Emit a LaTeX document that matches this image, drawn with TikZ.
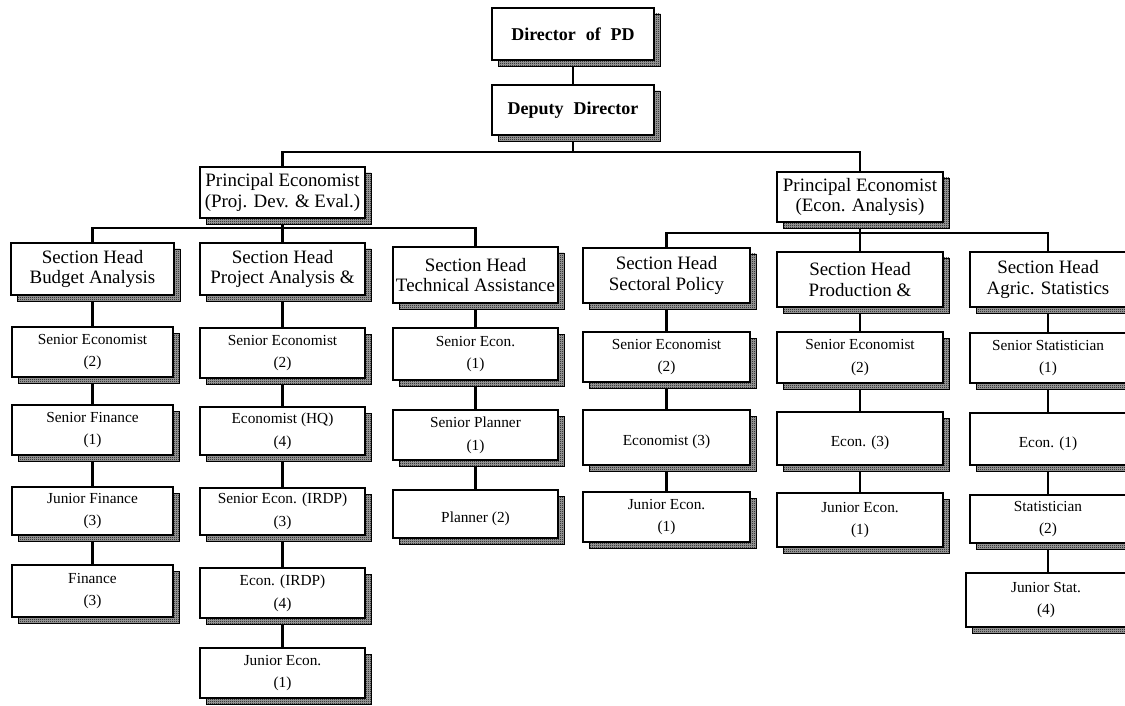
\documentclass[tikz,border=0pt]{standalone}
\usepackage{fontspec}
\setmainfont{Liberation Serif}
\newfontfamily\wideserif[WordSpace=2.2]{Liberation Serif}
\usetikzlibrary{shadows,patterns,backgrounds}
\pgfdeclarepatternformonly{finecheck}{\pgfqpoint{0pt}{0pt}}{\pgfqpoint{1.5pt}{1.5pt}}{\pgfqpoint{1.5pt}{1.5pt}}{%
  \pgfpathrectangle{\pgfqpoint{0pt}{0pt}}{\pgfqpoint{0.75pt}{0.75pt}}%
  \pgfpathrectangle{\pgfqpoint{0.75pt}{0.75pt}}{\pgfqpoint{0.75pt}{0.75pt}}%
  \pgfusepath{fill}}
\tikzset{
  box/.style={draw, line width=1.6pt, fill=white, align=center, inner sep=1pt,
    general shadow={shadow xshift=4.5pt, shadow yshift=-4.5pt, fill=black!35,
      postaction={pattern=finecheck, pattern color=black},
      draw=black, line width=0.6pt}},
  sz/.style 2 args={minimum width=#1*0.75pt, minimum height=#2*0.75pt},
  topbox/.style={box, font=\fontsize{13.5}{15}\wideserif\bfseries},
  headbox/.style={box, font=\fontsize{14.2}{15.5}\selectfont,
    execute at begin node={\rule{0pt}{14pt}}},
  staffbox/.style={box, font=\fontsize{11.5}{17}\selectfont,
    execute at begin node={\rule{0pt}{15pt}}},
  conn/.style={draw, line width=1.6pt}
}
\begin{document}
\begin{tikzpicture}[x=0.75pt, y=-0.75pt]
\useasboundingbox (0,0) rectangle (1125,706);
% top
\node[topbox, sz={162}{52}] (dir) at (573,34) {Director of PD};
\node[topbox, sz={162}{50}] (dd) at (573,110) {Deputy Director};
\node[headbox, sz={165}{51}] (pe1) at (282.5,192.5) {Principal Economist\\(Proj. Dev. \& Eval.)};
\node[headbox, sz={166}{50}] (pe2) at (860,197) {Principal Economist\\(Econ. Analysis)};
% section heads
\node[headbox, sz={163}{52}] (s1) at (92.5,269) {Section Head\\Budget Analysis};
\node[headbox, sz={165}{52}] (s2) at (282.5,269) {Section Head\\Project Analysis \&};
\node[headbox, sz={165}{56}] (s3) at (475.5,275) {Section Head\\Technical Assistance};
\node[headbox, sz={167}{55}] (s4) at (666.5,275.5) {Section Head\\Sectoral Policy};
\node[headbox, sz={166}{55}] (s5) at (860,279.5) {Section Head\\Production \&};
\node[headbox, sz={156}{55}] (s6) at (1048,279.5) {Section Head\\Agric. Statistics};
% column 1
\node[staffbox, sz={161}{50}] (a1) at (92.5,352) {Senior Economist\\(2)};
\node[staffbox, sz={161}{50}] (a2) at (92.5,430) {Senior Finance\\(1)};
\node[staffbox, sz={161}{48}] (a3) at (92.5,511) {Junior Finance\\(3)};
\node[staffbox, sz={161}{52}] (a4) at (92.5,591) {Finance\\(3)};
% column 2
\node[staffbox, sz={165}{50}] (b1) at (282.5,353) {Senior Economist\\(2)};
\node[staffbox, sz={165}{48}] (b2) at (282.5,431) {Economist (HQ)\\(4)};
\node[staffbox, sz={165}{47}] (b3) at (282.5,511.5) {Senior Econ. (IRDP)\\(3)};
\node[staffbox, sz={165}{50}] (b4) at (282.5,593) {Econ. (IRDP)\\(4)};
\node[staffbox, sz={165}{50}] (b5) at (282.5,673) {Junior Econ.\\(1)};
% column 3
\node[staffbox, sz={165}{52}] (c1) at (475.5,354) {Senior Econ.\\(1)};
\node[staffbox, sz={165}{50}] (c2) at (475.5,435) {Senior Planner\\(1)};
\node[staffbox, sz={165}{48}] (c3) at (475.5,514) {Planner (2)};
% column 4
\node[staffbox, sz={167}{50}] (d1) at (666.5,357) {Senior Economist\\(2)};
\node[staffbox, sz={167}{55}] (d2) at (666.5,437.5) {Economist (3)};
\node[staffbox, sz={167}{50}] (d3) at (666.5,517) {Junior Econ.\\(1)};
% column 5
\node[staffbox, sz={166}{51}] (e1) at (860,357.5) {Senior Economist\\(2)};
\node[staffbox, sz={166}{53}] (e2) at (860,438.5) {Econ. (3)};
\node[staffbox, sz={166}{54}] (e3) at (860,520) {Junior Econ.\\(1)};
% column 6
\node[staffbox, sz={156}{50}] (f1) at (1048,358) {Senior Statistician\\(1)};
\node[staffbox, sz={156}{52}] (f2) at (1048,439) {Econ. (1)};
\node[staffbox, sz={156}{48}] (f3) at (1048,519) {Statistician\\(2)};
\node[staffbox, sz={160}{54}] (f4) at (1046,600) {Junior Stat.\\(4)};
% connectors
\coordinate (bus0) at (573,152);
\coordinate (bus1) at (282.5,228);
\coordinate (bus2) at (860,233);
\begin{scope}[on background layer]
\draw[conn] (dir) -- (dd);
\draw[conn] (dd.south) -- (bus0);
\draw[conn] (pe1.north) |- (bus0) -| (pe2.north);
\draw[conn] (pe1.south) -- (bus1);
\draw[conn] (s1.north) |- (bus1) -| (s3.north);
\draw[conn] (bus1) -- (s2.north);
\draw[conn] (pe2.south) -- (bus2);
\draw[conn] (s4.north) |- (bus2) -| (s6.north);
\draw[conn] (bus2) -- (s5.north);
\draw[conn] (s1) -- (a1) -- (a2) -- (a3) -- (a4);
\draw[conn] (s2) -- (b1) -- (b2) -- (b3) -- (b4) -- (b5);
\draw[conn] (s3) -- (c1) -- (c2) -- (c3);
\draw[conn] (s4) -- (d1) -- (d2) -- (d3);
\draw[conn] (s5) -- (e1) -- (e2) -- (e3);
\draw[conn] (s6) -- (f1) -- (f2) -- (f3) -- (f3.south |- f4.north);
\end{scope}
\end{tikzpicture}
\end{document}
